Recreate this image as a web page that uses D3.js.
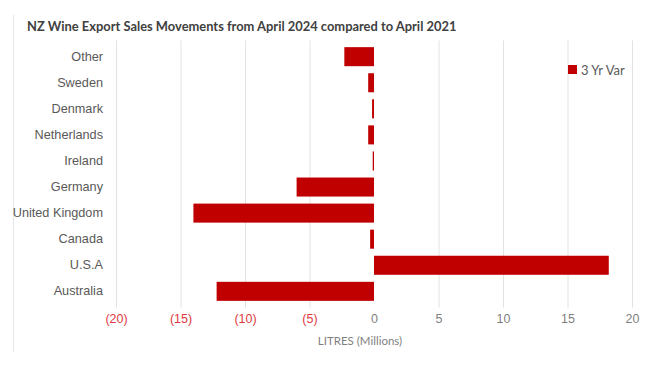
<!DOCTYPE html>
<html>
<head>
<meta charset="utf-8">
<script src="https://cdn.jsdelivr.net/npm/d3@7"></script>
<style>
  body { margin: 0; background: #fff; }
  svg { font-family: Lato, "Open Sans", sans-serif; }
</style>
</head>
<body>
<div id="chart"></div>
<script>
  // data, top to bottom as drawn
  var countries = ['Other', 'Sweden', 'Denmark', 'Netherlands', 'Ireland',
                   'Germany', 'United Kingdom', 'Canada', 'U.S.A', 'Australia'];
  var threeYrVar = [-2.3, -0.45, -0.15, -0.45, -0.1, -6.0, -14.0, -0.3, 18.2, -12.2];
  var xTicks = [-20, -15, -10, -5, 0, 5, 10, 15, 20];
  var seriesName = '3 Yr Var';

  var width = 658, height = 371;
  var margin = { top: 43.5, left: 116, right: 26, bottom: 66.5 };
  var barColor = '#c00000';

  var svg = d3.select('#chart').append('svg')
        .attr('width', width)
        .attr('height', height);

  // faint chart border on the left
  svg.append('line')
    .attr('x1', 13.5).attr('x2', 13.5)
    .attr('y1', 15).attr('y2', 352)
    .attr('stroke', '#e6e6e6');

  var x = d3.scaleLinear()
        .domain([-20, 20])
        .range([margin.left, width - margin.right]);

  var y = d3.scaleBand()
        .domain(countries)
        .range([margin.top, height - margin.bottom])
        .paddingInner(0.27)
        .paddingOuter(0.14);

  // title
  svg.append('text')
    .attr('x', 27)
    .attr('y', 31)
    .attr('fill', '#404040')
    .style('font-size', '12.9px')
    .style('font-weight', 'bold')
    .text('NZ Wine Export Sales Movements from April 2024 compared to April 2021');

  // gridlines
  svg.append('g')
    .selectAll('line')
    .data(xTicks.filter(function (d) { return d !== 0; }))
    .enter().append('line')
    .attr('x1', function (d) { return x(d) + 0.5; })
    .attr('x2', function (d) { return x(d) + 0.5; })
    .attr('y1', margin.top - 3)
    .attr('y2', height - margin.bottom + 3)
    .attr('stroke', '#e2e2e2');

  // bars
  svg.append('g')
    .selectAll('rect')
    .data(threeYrVar)
    .enter().append('rect')
    .attr('x', function (d) { return x(Math.min(0, d)); })
    .attr('width', function (d) { return Math.abs(x(d) - x(0)); })
    .attr('y', function (d, i) { return y(countries[i]); })
    .attr('height', y.bandwidth())
    .attr('fill', barColor);

  // x axis
  var xAxis = d3.axisBottom(x)
        .tickValues(xTicks)
        .tickSize(0)
        .tickPadding(0)
        .tickFormat(function (d) { return d < 0 ? '(' + Math.abs(d) + ')' : d; });

  var gx = svg.append('g')
        .attr('transform', 'translate(0,' + (height - margin.bottom + 10) + ')')
        .call(xAxis);
  gx.select('.domain').remove();
  gx.selectAll('text')
    .style('font-size', '12.5px')
    .attr('font-family', null)
    .attr('fill', function (d) { return d < 0 ? '#e0393e' : '#7f7f7f'; });

  // y axis (category labels)
  var yAxis = d3.axisLeft(y).tickSize(0).tickPadding(13);
  var gy = svg.append('g')
        .attr('transform', 'translate(' + margin.left + ',0)')
        .call(yAxis);
  gy.select('.domain').remove();
  gy.selectAll('text')
    .style('font-size', '12.7px')
    .attr('font-family', null)
    .attr('fill', '#595959');

  // axis title
  svg.append('text')
    .attr('x', 360)
    .attr('y', 345)
    .attr('text-anchor', 'middle')
    .attr('fill', '#7f7f7f')
    .style('font-size', '11.5px')
    .text('LITRES (Millions)');

  // legend
  var legend = svg.append('g').attr('transform', 'translate(568,65)');
  legend.append('rect')
    .attr('width', 9).attr('height', 9)
    .attr('fill', barColor);
  legend.append('text')
    .attr('x', 13)
    .attr('y', 9.5)
    .attr('fill', '#595959')
    .style('font-size', '13px')
    .text(seriesName);
</script>
</body>
</html>
